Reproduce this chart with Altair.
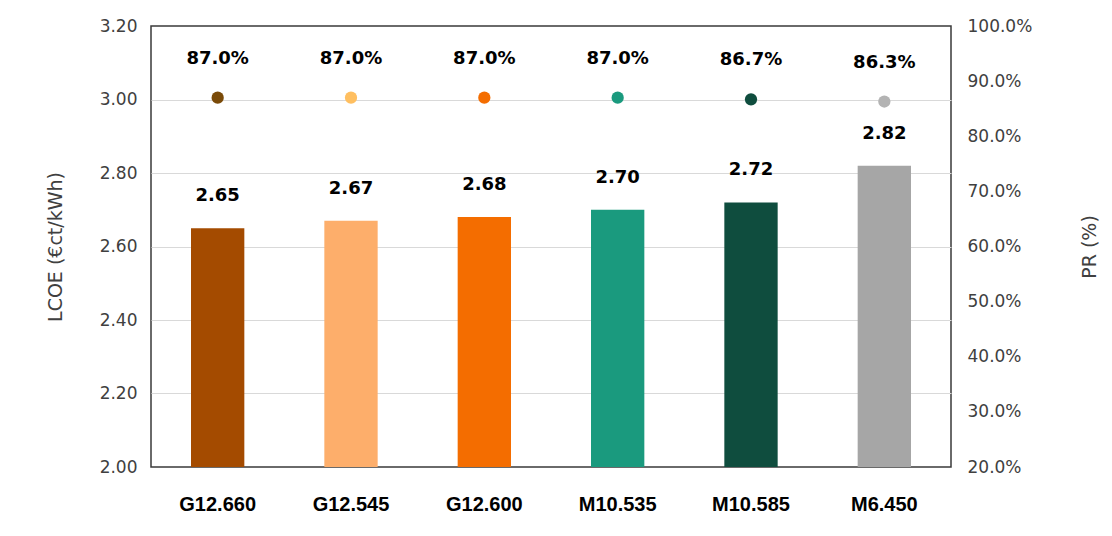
import altair as alt
import pandas as pd

categories = ["G12.660", "G12.545", "G12.600", "M10.535", "M10.585", "M6.450"]
lcoe = [2.65, 2.67, 2.68, 2.70, 2.72, 2.82]
pr = [0.870, 0.870, 0.870, 0.870, 0.867, 0.863]
bar_colors = ["#A44B00", "#FDAE6B", "#F46D00", "#1A9A7E", "#0F4D3E", "#A6A6A6"]
dot_colors = ["#7A4A08", "#FFBF60", "#F46D00", "#1A9A7E", "#0F4D3E", "#B3B3B3"]
lcoe_ticks = [2.0, 2.2, 2.4, 2.6, 2.8, 3.0, 3.2]
pr_ticks = [0.2, 0.3, 0.4, 0.5, 0.6, 0.7, 0.8, 0.9, 1.0]

df = pd.DataFrame({"cat": categories, "lcoe": lcoe, "pr": pr, "base": [2.0] * 6})

FONT = "DejaVu Sans"
LABEL_COLOR = "#404040"

x = alt.X("cat:N", sort=categories, title=None,
          scale=alt.Scale(paddingInner=0.6, paddingOuter=0.3),
          axis=alt.Axis(labelAngle=0, ticks=False, domain=False,
                        labelFont="Liberation Sans", labelFontWeight="bold",
                        labelFontSize=20, labelColor="#000000", labelPadding=27))

y_left = alt.Y("lcoe:Q", title="LCOE (€ct/kWh)",
               scale=alt.Scale(domain=[2.0, 3.2], zero=False, nice=False),
               axis=alt.Axis(values=lcoe_ticks, format=".2f", ticks=False, domain=False,
                             grid=True,
                             gridColor={"condition": {"test": "datum.value < 2.1 || datum.value > 3.1",
                                                      "value": "transparent"},
                                        "value": "#D9D9D9"},
                             labelFont=FONT,
                             labelFontSize=17, labelColor=LABEL_COLOR, labelPadding=14,
                             titleFont=FONT, titleFontSize=19, titleFontWeight="normal",
                             titleColor=LABEL_COLOR, titlePadding=34))

bars = alt.Chart(df).mark_bar().encode(
    x=x,
    y=y_left,
    y2="base:Q",
    color=alt.Color("cat:N", sort=categories,
                    scale=alt.Scale(domain=categories, range=bar_colors), legend=None),
)

bar_text = alt.Chart(df).mark_text(dy=-32, font=FONT, fontWeight="bold", fontSize=18,
                                   color="#000000").encode(
    x=alt.X("cat:N", sort=categories),
    y=alt.Y("lcoe:Q"),
    text=alt.Text("lcoe:Q", format=".2f"),
)

left = alt.layer(bars, bar_text)

y_right = alt.Y("pr:Q", title="PR (%)",
                scale=alt.Scale(domain=[0.2, 1.0], zero=False, nice=False),
                axis=alt.Axis(orient="right", values=pr_ticks, format=".1%", ticks=False,
                              domain=False, grid=False, labelFont=FONT, labelFontSize=17,
                              labelColor=LABEL_COLOR, labelPadding=16, titleFont=FONT,
                              titleFontSize=19, titleFontWeight="normal", titleAngle=270,
                              titleColor=LABEL_COLOR, titlePadding=68))

dots = alt.Chart(df).mark_circle(size=150, opacity=1).encode(
    x=alt.X("cat:N", sort=categories),
    y=y_right,
    fill=alt.Fill("cat:N", sort=categories,
                  scale=alt.Scale(domain=categories, range=dot_colors), legend=None),
)

dot_text = alt.Chart(df).mark_text(dy=-39, font=FONT, fontWeight="bold", fontSize=18,
                                   color="#000000").encode(
    x=alt.X("cat:N", sort=categories),
    y=alt.Y("pr:Q"),
    text=alt.Text("pr:Q", format=".1%"),
)

right = alt.layer(dots, dot_text)

chart = alt.layer(left, right).resolve_scale(
    y="independent", color="independent", fill="independent"
).properties(
    width=800, height=441,
    background="#FFFFFF",
    autosize=alt.AutoSizeParams(type="none"),
    padding={"left": 151, "top": 26, "right": 161, "bottom": 69},
).configure_view(
    stroke="#3A3A3A", strokeWidth=1.5
)

chart.save("out.html", embed_options={"renderer": "svg", "actions": False})
